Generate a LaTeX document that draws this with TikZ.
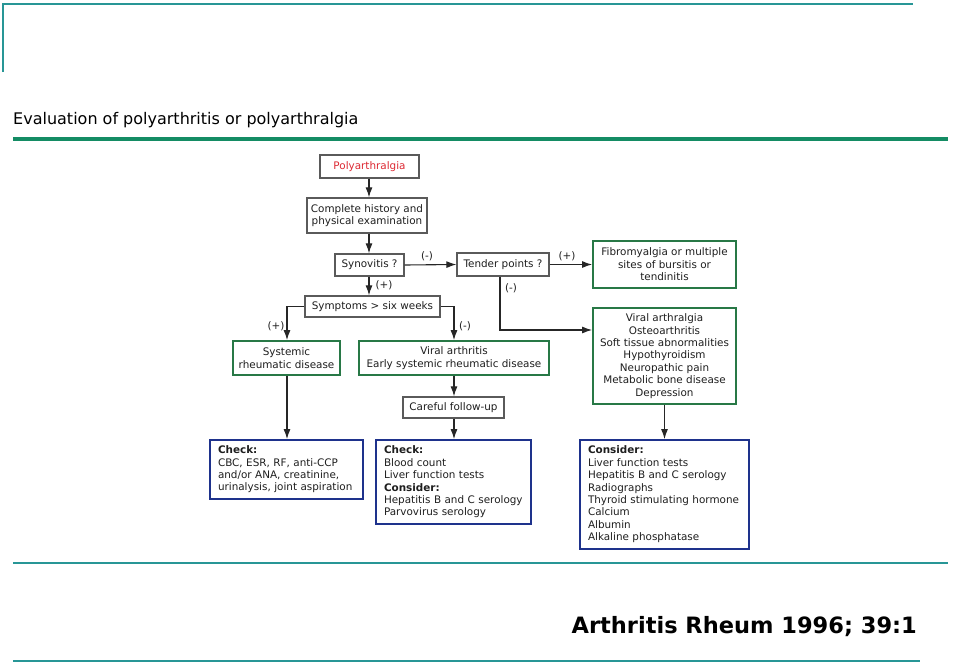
\documentclass[tikz,border=0pt]{standalone}
\usepackage{fontspec}
\setmainfont{DejaVu Sans}
\usetikzlibrary{arrows.meta}
\hyphenpenalty=10000
\exhyphenpenalty=10000
\definecolor{teal1}{RGB}{40,150,150}
\definecolor{green1}{RGB}{20,140,100}
\definecolor{boxgreen}{RGB}{40,120,70}
\definecolor{boxblue}{RGB}{30,50,140}
\definecolor{boxgray}{RGB}{90,90,90}
\definecolor{txtred}{RGB}{220,40,50}
\definecolor{txt}{RGB}{30,30,30}
\tikzset{
  base/.style={font=\fontsize{10.4}{12.4}\selectfont, text=txt, inner sep=1pt, align=center},
  graybox/.style={base, draw=boxgray, line width=1.3pt},
  greenbox/.style={base, draw=boxgreen, line width=1.8pt},
  bluebox/.style={base, draw=boxblue, line width=1.8pt, align=left, inner xsep=8pt},
  lbl/.style={base, inner sep=0pt},
  conn/.style={line width=1.1pt, draw=black!85, -{Latex[length=10pt,width=7pt]}},
}
\begin{document}
\begin{tikzpicture}[x=1pt,y=-1pt]
\useasboundingbox (0,0) rectangle (960,664);
% frame lines
\draw[teal1, line width=2pt] (3,72) -- (3,4) -- (913,4);
\node[anchor=west, inner sep=0pt, font=\fontsize{16}{18}\selectfont, text=black] (title) at (13,120) {Evaluation of polyarthritis or polyarthralgia};
\draw[green1, line width=4.5pt] (13,139) -- (948,139);
\draw[teal1, line width=2pt] (13,563) -- (948,563);
\draw[teal1, line width=2pt] (13,661) -- (920,661);
\node[anchor=east, inner sep=0pt, font=\bfseries\fontsize{22.5}{24}\selectfont, text=black] (cite) at (917,627) {Arthritis Rheum 1996; 39:1};

% nodes
\node[graybox, minimum width=99pt, minimum height=23pt, text=txtred] (poly) at (369.5,166.5) {Polyarthralgia};
\node[graybox, minimum width=120pt, minimum height=35pt] (hist) at (367,215.5) {Complete history and\\physical examination};
\node[graybox, minimum width=69pt, minimum height=22pt] (syn) at (369.5,265) {Synovitis ?};
\node[graybox, minimum width=92pt, minimum height=23pt] (tender) at (503,264.5) {Tender points ?};
\node[greenbox, minimum width=143pt, minimum height=47pt] (fibro) at (664.5,264.5) {Fibromyalgia or multiple\\sites of bursitis or\\tendinitis};
\node[graybox, minimum width=135pt, minimum height=21pt] (symp) at (372.5,306.5) {Symptoms > six weeks};
\node[greenbox, minimum width=107pt, minimum height=34pt] (sys) at (286.5,358) {Systemic\\rheumatic disease};
\node[greenbox, minimum width=190pt, minimum height=34pt] (vir) at (454,358) {Viral arthritis\\Early systemic rheumatic disease};
\node[graybox, minimum width=101pt, minimum height=21pt] (care) at (453.5,407.5) {Careful follow-up};
\node[greenbox, minimum width=143pt, minimum height=96pt] (varth) at (664.5,356) {Viral arthralgia\\Osteoarthritis\\Soft tissue abnormalities\\Hypothyroidism\\Neuropathic pain\\Metabolic bone disease\\Depression};
\node[bluebox, text width=137pt, minimum height=59pt] (chk1) at (286.5,469.5) {\textbf{Check:}\\CBC, ESR, RF, anti-CCP\\and/or ANA, creatinine,\\urinalysis, joint aspiration};
\node[bluebox, text width=139pt, minimum height=84pt] (chk2) at (453.5,482) {\textbf{Check:}\\Blood count\\Liver function tests\\\textbf{Consider:}\\Hepatitis B and C serology\\Parvovirus serology};
\node[bluebox, text width=153pt, minimum height=109pt] (cons) at (664.5,494.5) {\textbf{Consider:}\\Liver function tests\\Hepatitis B and C serology\\Radiographs\\Thyroid stimulating hormone\\Calcium\\Albumin\\Alkaline phosphatase};

% connectors
\coordinate (mc) at (369,0);
\draw[conn] (poly.south -| mc) -- (hist.north -| mc);
\draw[conn] (hist.south -| mc) -- (syn.north -| mc);
\draw[conn] (syn.south -| mc) -- (symp.north -| mc);
\draw[conn] (syn.east) -- (tender.west);
\draw[conn] (tender.east) -- (fibro.west);
\coordinate (tdn) at (500,330);
\draw[conn] (tender.south -| tdn) -- (tdn) -- (varth.west |- tdn);
\coordinate (sl) at (287,306.5);
\coordinate (sr) at (454,306.5);
\draw[conn] (symp.west) -- (sl) -- (sl |- sys.north);
\draw[conn] (symp.east) -- (sr) -- (sr |- vir.north);
\draw[conn] (sys.south -| sl) -- (chk1.north -| sl);
\draw[conn] (vir.south -| sr) -- (care.north -| sr);
\draw[conn] (care.south -| sr) -- (chk2.north -| sr);
\draw[conn] (varth.south) -- (cons.north);

% labels
\node[lbl] (l1) at (427,256) {(-)};
\node[lbl] (l2) at (567,256) {(+)};
\node[lbl] (l3) at (384,285) {(+)};
\node[lbl] (l4) at (511,288) {(-)};
\node[lbl] (l5) at (276,326) {(+)};
\node[lbl] (l6) at (465,326) {(-)};
\end{tikzpicture}
\end{document}
